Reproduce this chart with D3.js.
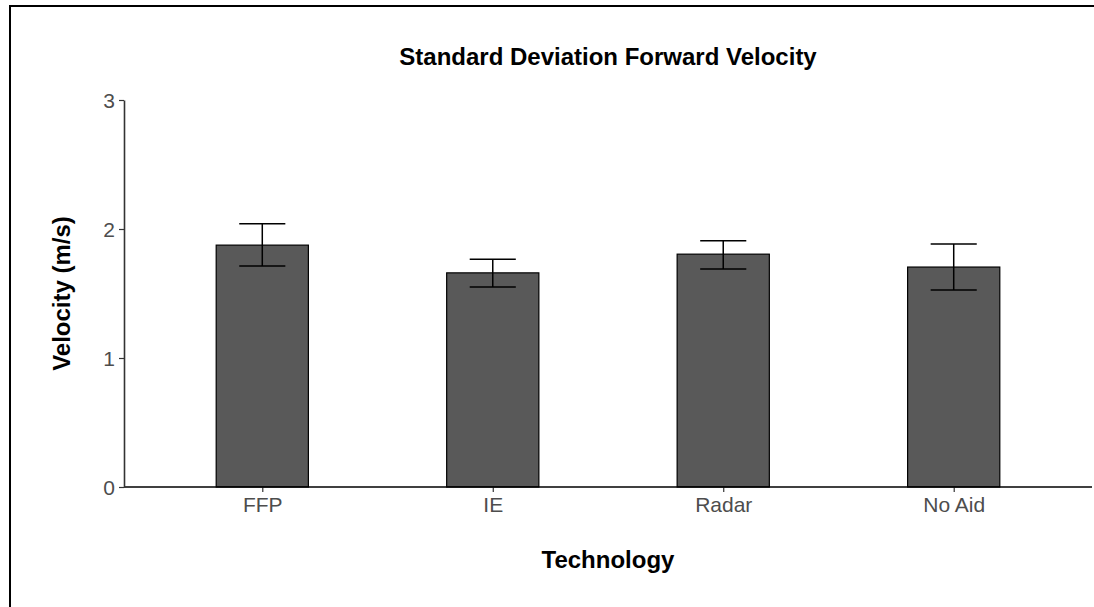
<!DOCTYPE html>
<html>
<head>
<meta charset="utf-8">
<script src="https://cdn.jsdelivr.net/npm/d3@7"></script>
<style>
	body { margin: 0; background: #fff; }
	svg { display: block; font-family: "Liberation Sans", Arial, sans-serif; }
</style>
</head>
<body>
<div id="chart"></div>
<script>
// data
var categories = ["FFP", "IE", "Radar", "No Aid"];
var means = [1.875, 1.66, 1.805, 1.705];
var lower = [1.713, 1.55, 1.69, 1.527];
var upper = [2.04, 1.765, 1.908, 1.884];
var yTicks = [0, 1, 2, 3];

var width = 1094, height = 607;
var margin = {left: 124, right: 2, top: 100, bottom: 120};

var svg = d3.select("#chart").append("svg")
	.attr("width", width)
	.attr("height", height);

// outer frame (only top and left edges visible)
svg.append("rect")
	.attr("x", 10).attr("y", 6)
	.attr("width", width + 20).attr("height", height + 20)
	.attr("fill", "none")
	.attr("stroke", "#000")
	.attr("stroke-width", 2);

// ggplot style discrete scale: 0.6 step padding on both sides
var step = (width - margin.right - margin.left) / (categories.length - 1 + 1.2);
var x = d3.scalePoint()
	.domain(categories)
	.range([margin.left + 0.6 * step, width - margin.right - 0.6 * step]);

var y = d3.scaleLinear()
	.domain([0, 3])
	.range([487, 100]);

var barW = 0.4 * step;
var capW = 0.1 * step;

var data = categories.map(function(c, i) {
	return {cat: c, mean: means[i], lo: lower[i], hi: upper[i]};
});

// bars
svg.append("g").selectAll("rect")
	.data(data)
	.enter().append("rect")
		.attr("x", function(d) { return x(d.cat) - barW / 2; })
		.attr("y", function(d) { return y(d.mean); })
		.attr("width", barW)
		.attr("height", function(d) { return y(0) - y(d.mean); })
		.attr("fill", "#595959")
		.attr("stroke", "#000")
		.attr("stroke-width", 1.2);

// error bars
var eb = svg.append("g").selectAll("g")
	.data(data)
	.enter().append("g")
		.attr("stroke", "#000")
		.attr("stroke-width", 1.5);

eb.append("line")
	.attr("x1", function(d) { return x(d.cat); })
	.attr("x2", function(d) { return x(d.cat); })
	.attr("y1", function(d) { return y(d.lo); })
	.attr("y2", function(d) { return y(d.hi); });
eb.append("line")
	.attr("x1", function(d) { return x(d.cat) - capW; })
	.attr("x2", function(d) { return x(d.cat) + capW; })
	.attr("y1", function(d) { return y(d.hi); })
	.attr("y2", function(d) { return y(d.hi); });
eb.append("line")
	.attr("x1", function(d) { return x(d.cat) - capW; })
	.attr("x2", function(d) { return x(d.cat) + capW; })
	.attr("y1", function(d) { return y(d.lo); })
	.attr("y2", function(d) { return y(d.lo); });

// axes
var xAxis = svg.append("g")
	.attr("transform", "translate(0," + y(0) + ")")
	.call(d3.axisBottom(x).tickSize(5).tickPadding(5).tickSizeOuter(0));
xAxis.select(".domain").remove();
xAxis.append("line")
	.attr("x1", margin.left).attr("x2", width - margin.right)
	.attr("stroke", "#000").attr("stroke-width", 1.6);

var yAxis = svg.append("g")
	.attr("transform", "translate(" + margin.left + ",0)")
	.call(d3.axisLeft(y).tickValues(yTicks).tickFormat(d3.format("d")).tickSize(5).tickPadding(4).tickSizeOuter(0));
yAxis.select(".domain").attr("stroke", "#333").attr("stroke-width", 1.6);

[xAxis, yAxis].forEach(function(a) {
	a.selectAll(".tick line").attr("stroke", "#333").attr("stroke-width", 1.2);
	a.selectAll(".tick text")
		.attr("fill", "#4d4d4d")
		.style("font-size", "21px")
		.style("font-family", "'Liberation Sans', Arial, sans-serif");
});
yAxis.selectAll(".tick text").attr("dy", "0.36em");

// title and axis titles
svg.append("text")
	.attr("x", (margin.left + width - margin.right) / 2)
	.attr("y", 65)
	.attr("text-anchor", "middle")
	.style("font-size", "24px")
	.style("font-weight", "bold")
	.text("Standard Deviation Forward Velocity");

svg.append("text")
	.attr("x", (margin.left + width - margin.right) / 2)
	.attr("y", 568)
	.attr("text-anchor", "middle")
	.style("font-size", "24px")
	.style("font-weight", "bold")
	.text("Technology");

svg.append("text")
	.attr("transform", "translate(70," + (y(0) + y(3)) / 2 + ") rotate(-90)")
	.attr("text-anchor", "middle")
	.style("font-size", "24px")
	.style("font-weight", "bold")
	.text("Velocity (m/s)");
</script>
</body>
</html>
